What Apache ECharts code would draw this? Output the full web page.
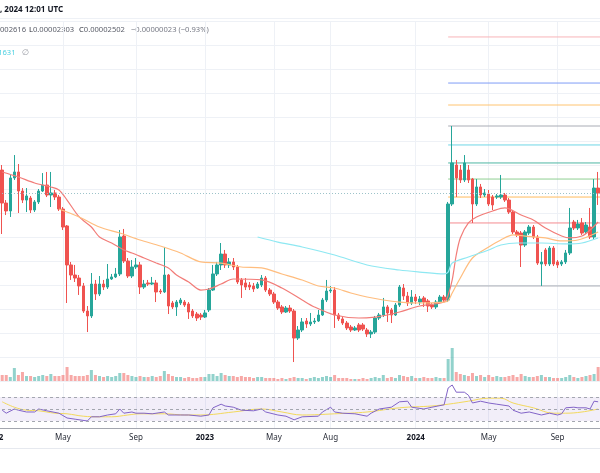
<!DOCTYPE html>
<html>
<head>
<meta charset="utf-8">
<script src="https://cdn.jsdelivr.net/npm/echarts@6/dist/echarts.min.js"></script>
<style>
	html, body { margin: 0; padding: 0; background: #ffffff; }
	#chart { width: 600px; height: 473px; }
</style>
</head>
<body>
<div id="chart"></div>
<script>
	// weekly bars, category 0 = week of 2021-12-27
	var firstWeek = Date.UTC(2021, 11, 27);
	var weekTotal = 152;
	var firstBar = 3;

	var tickLabels = [
		['2022-01-03', '2022'], ['2022-05-02', 'May'], ['2022-09-05', 'Sep'],
		['2023-01-02', '2023'], ['2023-05-01', 'May'], ['2023-08-07', 'Aug'],
		['2024-01-01', '2024'], ['2024-05-06', 'May'], ['2024-09-02', 'Sep']
	];

	// price in units of 0.00000001 : [open, close, low, high], from firstBar on
	var ohlc = [
		[2758,2483,2225,2800],[2483,2417,2383,2508],[2417,2692,2367,2717],[2692,2742,2675,2883],[2742,2583,2400,2808],
		[2583,2508,2483,2608],[2508,2542,2408,2608],[2525,2425,2400,2542],[2425,2492,2408,2508],[2492,2583,2475,2600],
		[2583,2633,2575,2733],[2633,2550,2533,2742],[2550,2567,2450,2742],[2567,2533,2508,2592],[2533,2433,2417,2550],
		[2433,2283,2258,2450],[2292,1967,1650,2300],[1967,1883,1842,1992],[1883,1858,1825,1967],[1858,1792,1717,1883],
		[1792,1583,1567,1817],[1583,1542,1408,1625],[1542,1808,1525,1900],[1808,1725,1675,1842],[1725,1808,1708,1875],
		[1808,1783,1758,1842],[1783,1850,1767,1975],[1850,1867,1842,1892],[1867,1892,1858,1942],[1892,2200,1875,2258],
		[2208,2000,1983,2267],[2000,1875,1858,2025],[1875,1950,1858,2008],[1950,1967,1933,2025],[1967,1783,1725,1992],
		[1783,1808,1767,1842],[1817,1808,1792,1842],[1808,1817,1800,1867],[1817,1742,1658,1842],[1750,1742,1725,1767],
		[1742,1883,1733,2117],[1883,1625,1558,1892],[1650,1617,1600,1667],[1617,1658,1542,1675],[1650,1675,1633,1692],
		[1658,1633,1617,1675],[1642,1575,1517,1658],[1583,1542,1525,1600],[1558,1525,1500,1575],[1550,1533,1508,1567],
		[1533,1567,1525,1592],[1592,1758,1575,1775],[1758,1892,1750,1967],[1892,1967,1875,1992],[1967,2058,1925,2150],
		[2058,1967,1942,2092],[1967,1992,1942,2025],[1992,1950,1925,2025],[1950,1825,1808,1967],[1842,1800,1692,1858],
		[1817,1783,1758,1858],[1800,1783,1758,1825],[1792,1767,1742,1817],[1775,1808,1767,1825],[1800,1858,1783,1883],
		[1858,1758,1742,1875],[1758,1725,1708,1775],[1725,1658,1642,1742],[1658,1608,1592,1675],[1617,1575,1558,1633],
		[1575,1608,1567,1625],[1608,1583,1567,1633],[1583,1358,1158,1600],[1358,1425,1342,1458],[1425,1492,1408,1525],
		[1500,1475,1442,1525],[1475,1492,1458,1567],[1492,1500,1475,1525],[1500,1550,1492,1592],[1550,1675,1542,1692],
		[1675,1750,1658,1842],[1750,1758,1733,1792],[1758,1550,1442,1783],[1550,1517,1500,1567],[1517,1483,1467,1533],
		[1483,1442,1425,1500],[1450,1425,1408,1467],[1425,1442,1417,1458],[1467,1425,1408,1483],[1467,1433,1417,1483],
		[1425,1392,1367,1442],[1392,1408,1358,1425],[1408,1525,1392,1542],[1525,1550,1508,1567],[1550,1617,1533,1692],
		[1617,1567,1492,1633],[1592,1550,1483,1608],[1550,1633,1542,1650],[1633,1783,1617,1800],[1775,1708,1675,1808],
		[1708,1650,1625,1742],[1650,1700,1633,1758],[1700,1667,1642,1725],[1658,1683,1633,1708],[1692,1658,1617,1708],
		[1667,1625,1575,1683],[1633,1617,1600,1650],[1617,1658,1600,1675],[1658,1700,1650,1717],[1700,1675,1658,1717],
		[1675,2475,1658,2492],[2475,2817,2458,3125],[2800,2692,2533,2842],[2758,2675,2650,2800],[2675,2817,2658,2883],
		[2758,2675,2650,2800],[2683,2475,2317,2692],[2475,2617,2458,2683],[2617,2550,2525,2642],[2550,2567,2533,2600],
		[2558,2475,2458,2592],[2533,2467,2425,2550],[2533,2542,2517,2558],[2533,2550,2517,2717],[2550,2508,2492,2567],
		[2508,2408,2392,2525],[2408,2242,2225,2425],[2242,2217,2200,2258],[2233,2133,1950,2250],[2133,2242,2117,2258],
		[2233,2283,2217,2300],[2283,2200,2183,2300],[2200,1983,1967,2217],[1975,1992,1792,2075],[2092,1975,1958,2108],
		[1975,2108,1958,2125],[2108,1975,1958,2125],[1992,1967,1942,2008],[1975,1992,1958,2008],[1992,2067,1975,2092],
		[2067,2275,2050,2442],[2325,2275,2258,2342],[2275,2308,2258,2342],[2317,2233,2217,2358],[2242,2300,2225,2325],
		[2283,2200,2183,2442],[2200,2608,2183,2683],[2608,2567,2467,2742]
	];

	// weekly volume, from firstBar on
	var volume = [
		30,30,20,65,30,45,25,25,20,25, 30,25,35,25,25,30, 70, 30,25,25,25,30, 55, 30,25,20,25,20,25,
		40,40,30,25,20,25, 20,20,25,20,25, 50,35,25,20,20,15, 20,15,15,20,20,
		35,35,25,40,30,25,25,20,25,20, 20,15,20,20,15,15,15,10,15,10, 15,20,15,15,10,15,20,15,20,25,
		20,30,15,15,15,10,10,10,15,10, 15,20,15,30,15,20,15,30,25,20, 25,15,15,20,15,15,20,15,15,
		110,165,45,35,30,25,40,25,30,20, 30,20,25,20,20,25,30,20,35,25, 20,20,25,30,20,20,15,15,15,20,
		30,20,15,20,25,30,35,70
	];

	// moving averages: [week index, price]
	var maFast = [[3,2742],[7,2700],[11,2650],[15,2617],[17,2592],[19,2508],[22,2367],[25,2283],[27,2200],[30,2150],
		[33,2092],[35,2067],[38,2025],[41,1983],[44,1942],[46,1883],[49,1825],[52,1758],[54,1767],[57,1808],[60,1850],
		[67,1842],[72,1775],[77,1675],[80,1617],[85,1550],[91,1525],[95,1533],[98,1550],[101,1575],[106,1625],[112,1658],
		[113,1717],[114,1842],[115,2050],[116,2192],[118,2317],[120,2367],[124,2417],[127,2442],[131,2383],[134,2342],
		[137,2275],[141,2208],[143,2192],[146,2208],[148,2258],[150,2325]];
	var maMid = [[17,2433],[22,2367],[27,2283],[32,2233],[37,2175],[42,2125],[47,2067],[52,1992],[57,1983],[62,1950],
		[67,1942],[72,1892],[77,1842],[81,1792],[85,1775],[89,1733],[93,1700],[97,1675],[101,1658],[106,1650],[112,1658],
		[113,1667],[114,1733],[116,1858],[119,2025],[123,2117],[126,2175],[129,2217],[132,2208],[137,2192],[141,2167],
		[145,2175],[150,2242]];
	var maSlow = [[66,2200],[71,2158],[77,2117],[85,2050],[93,1967],[101,1925],[106,1908],[112,1892],[113,1908],
		[114,1983],[118,2033],[123,2092],[126,2133],[130,2150],[136,2150],[142,2142],[146,2150],[150,2192]];

	var rsi = [[3,48],[4,43],[6,50],[7,48],[9,45],[11,45],[12,50],[14,47],[17,43],[19,35],[21,33],[24,30],[25,37],
		[27,37],[29,40],[31,42],[32,50],[33,43],[35,45],[36,43],[38,43],[40,42],[43,45],[44,40],[47,40],[49,40],[52,38],
		[54,40],[55,52],[57,58],[58,55],[60,53],[62,48],[65,47],[67,50],[68,45],[71,40],[73,38],[75,32],[77,37],[81,38],
		[82,45],[84,53],[85,45],[87,43],[90,42],[93,38],[94,43],[96,50],[99,53],[101,62],[103,63],[104,53],[107,50],
		[109,53],[112,57],[113,85],[114,90],[115,78],[117,78],[118,73],[119,60],[121,63],[123,60],[125,58],[128,55],
		[129,48],[131,43],[133,45],[136,40],[138,43],[140,40],[141,42],[142,52],[144,53],[145,52],[147,52],[148,50],
		[149,63],[150,62]];
	var rsiMa = [[3,62],[6,53],[9,48],[12,47],[16,43],[19,42],[23,38],[27,37],[30,37],[34,40],[37,42],[40,42],[43,42],
		[48,40],[52,40],[60,45],[67,50],[72,45],[77,40],[85,42],[93,45],[101,52],[109,55],[113,58],[118,63],[123,68],
		[126,68],[129,60],[134,52],[139,43],[142,43],[146,45],[150,50]];

	// fibonacci levels drawn from the 2024 spike
	var fibStart = '2024-02-26';
	var fibLevels = [1792, 2317, 2533, 2683, 2817, 2967, 3125, 3300, 3483, 3867];
	var fibColors = ['#a9acb5', '#f48a90', '#ffbb5c', '#8fcf92', '#4db6a4', '#6fd6e6', '#a9acb5', '#ffc470', '#7f9cf6', '#f8b4b8'];

	var weeks = [];
	for (var w = 0; w < weekTotal; w++) {
		weeks.push(new Date(firstWeek + w * 7 * 86400000).toISOString().slice(0, 10));
	}
	var labelAt = {};
	tickLabels.forEach(function (t) { labelAt[weeks.indexOf(t[0])] = t[1]; });

	var upColor = '#26a69a', downColor = '#ef5350';
	var candleData = [], volData = [];
	for (var i = 0; i < weekTotal; i++) {
		var row = ohlc[i - firstBar];
		if (!row) {
			candleData.push(['-', '-', '-', '-']);
			volData.push('-');
			continue;
		}
		candleData.push(row);
		volData.push({
			value: volume[i - firstBar],
			itemStyle: { color: row[1] >= row[0] ? 'rgba(38,166,154,0.5)' : 'rgba(239,83,80,0.5)' }
		});
	}
	var lastClose = ohlc[ohlc.length - 1][1];
	var lastWeek = weeks[weekTotal - 1];

	function pairs(list) {
		return list.map(function (p) { return [weeks[p[0]], p[1]]; });
	}

	function gridX(idx, showLabels) {
		return {
			type: 'category', gridIndex: idx, data: weeks, boundaryGap: false,
			axisTick: { show: false },
			axisLine: { show: showLabels, lineStyle: { color: '#a3a6af', width: 1 } },
			axisLabel: {
				show: showLabels, margin: 6, fontSize: 8, color: '#2a2e39', fontFamily: 'Noto Sans',
				hideOverlap: false,
				interval: function (n) { return labelAt[n] !== undefined; },
				formatter: function (v, n) {
					var t = labelAt[n];
					if (t === undefined) return '';
					return /^\d+$/.test(t) ? '{yr|' + t + '}' : t;
				},
				rich: { yr: { fontWeight: 'bold', fontSize: 8, color: '#131722', fontFamily: 'Noto Sans' } }
			},
			splitLine: {
				show: idx !== 1,
				interval: function (n) { return labelAt[n] !== undefined; },
				lineStyle: { color: '#eef1f6', width: 1 }
			}
		};
	}

	var series = [
		{
			name: 'Volume', type: 'bar', xAxisIndex: 1, yAxisIndex: 1, data: volData,
			barWidth: 3, z: 1, silent: true
		},
		{
			name: 'Price', type: 'candlestick', xAxisIndex: 0, yAxisIndex: 0, data: candleData,
			barWidth: 3, z: 3, silent: true,
			itemStyle: { color: upColor, color0: downColor, borderColor: upColor, borderColor0: downColor, borderWidth: 1 },
			markLine: {
				silent: true, symbol: 'none', label: { show: false },
				lineStyle: { color: '#9cc3c9', width: 1, type: [1, 2] },
				data: [{ yAxis: lastClose }]
			}
		},
		{
			name: 'MA fast', type: 'line', xAxisIndex: 0, yAxisIndex: 0, data: pairs(maFast), z: 4,
			symbol: 'none', smooth: 0.3, silent: true, lineStyle: { color: '#f27c78', width: 1.2 }
		},
		{
			name: 'MA mid', type: 'line', xAxisIndex: 0, yAxisIndex: 0, data: pairs(maMid), z: 4,
			symbol: 'none', smooth: 0.3, silent: true, lineStyle: { color: '#ffbd7e', width: 1.2 }
		},
		{
			name: 'MA slow', type: 'line', xAxisIndex: 0, yAxisIndex: 0, data: pairs(maSlow), z: 4,
			symbol: 'none', smooth: 0.3, silent: true, lineStyle: { color: '#8ee8f2', width: 1.2 }
		},
		{
			name: 'RSI', type: 'line', xAxisIndex: 2, yAxisIndex: 2, data: pairs(rsi), z: 4,
			symbol: 'none', silent: true, lineStyle: { color: '#8264c8', width: 1 },
			markArea: { silent: true, itemStyle: { color: 'rgba(126,87,194,0.1)' }, data: [[{ yAxis: 30 }, { yAxis: 70 }]] },
			markLine: {
				silent: true, symbol: 'none', label: { show: false },
				lineStyle: { color: '#a3a6af', type: [3, 3], width: 1 },
				data: [{ yAxis: 70 }, { yAxis: 50 }, { yAxis: 30 }]
			}
		},
		{
			name: 'RSI MA', type: 'line', xAxisIndex: 2, yAxisIndex: 2, data: pairs(rsiMa), z: 3,
			symbol: 'none', smooth: 0.4, silent: true, lineStyle: { color: '#f3d95c', width: 1 }
		}
	];

	fibLevels.forEach(function (v, k) {
		series.push({
			name: 'Fib ' + k, type: 'line', xAxisIndex: 0, yAxisIndex: 0, z: 2,
			data: [[fibStart, v], [lastWeek, v]],
			symbol: 'none', silent: true,
			lineStyle: { color: fibColors[k], width: 1 }
		});
	});

	var paneGrid = { left: -9.97, right: -2.2, containLabel: false, outerBoundsMode: 'none' };

	var myChart = echarts.init(document.getElementById('chart'));
	var option = {
		animation: false,
		backgroundColor: '#ffffff',
		grid: [
			echarts.util.extend({ top: 21, height: 360 }, paneGrid),
			echarts.util.extend({ top: 281, height: 100 }, paneGrid),
			echarts.util.extend({ top: 383, height: 45 }, paneGrid)
		],
		xAxis: [gridX(0, false), gridX(1, false), gridX(2, true)],
		yAxis: [
			{
				gridIndex: 0, type: 'value', min: 1000, max: 4000, interval: 200, position: 'right',
				axisLine: { show: false }, axisTick: { show: false }, axisLabel: { show: false },
				splitLine: { lineStyle: { color: '#eef1f6', width: 1 } }
			},
			{
				gridIndex: 1, type: 'value', min: 0, max: 500,
				axisLine: { show: false }, axisTick: { show: false }, axisLabel: { show: false }, splitLine: { show: false }
			},
			{
				gridIndex: 2, type: 'value', min: 18.33, max: 93.33,
				axisLine: { show: false }, axisTick: { show: false }, axisLabel: { show: false }, splitLine: { show: false }
			}
		],
		series: series,
		graphic: [
			{ type: 'line', shape: { x1: 0, y1: 18.5, x2: 600, y2: 18.5 }, style: { stroke: '#eef1f6', lineWidth: 1 }, silent: true },
			{ type: 'line', shape: { x1: 0, y1: 448.5, x2: 600, y2: 448.5 }, style: { stroke: '#e6e9ef', lineWidth: 1 }, silent: true },
			{ type: 'text', left: 0, top: 6, silent: true,
				style: { text: ', 2024 12:01 UTC', font: 'bold 8px "Noto Sans"', fill: '#131722' } },
			{ type: 'text', left: 0, top: 26, silent: true,
				style: { text: '002616', font: '7.6px "Noto Sans"', fill: '#5d606b' } },
			{ type: 'text', left: 29, top: 26, silent: true,
				style: { text: '{k|L}0.00002303', font: '7.6px "Noto Sans"', fill: '#5d606b',
					rich: { k: { fill: '#2a2e39', font: '7.6px "Noto Sans"' } } } },
			{ type: 'text', left: 79, top: 26, silent: true,
				style: { text: '{k|C}0.00002502', font: '7.6px "Noto Sans"', fill: '#5d606b',
					rich: { k: { fill: '#2a2e39', font: '7.6px "Noto Sans"' } } } },
			{ type: 'text', left: 131, top: 26, silent: true,
				style: { text: '\u22120.00000023 (\u22120.93%)', font: '7.6px "Noto Sans"', fill: '#787b86' } },
			{ type: 'text', x: 15.5, y: 49, silent: true,
				style: { text: '1631', font: '7.6px "Noto Sans"', fill: '#4dd0e1', align: 'right' } },
			{ type: 'text', left: 22, top: 48.5, silent: true,
				style: { text: '\u2205', font: '8px "DejaVu Sans"', fill: '#9598a1' } }
		]
	};
	myChart.setOption(option);
</script>
</body>
</html>
